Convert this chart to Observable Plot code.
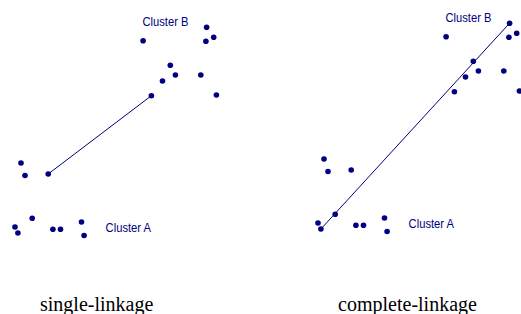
<!DOCTYPE html>
<html><head><meta charset="utf-8">
<script src="https://cdn.jsdelivr.net/npm/d3@7"></script>
<script src="https://cdn.jsdelivr.net/npm/@observablehq/plot@0.6"></script>
<style>
html,body{margin:0;padding:0;background:#fff;width:521px;height:314px;overflow:hidden;}
#wrap{position:relative;width:521px;height:314px;overflow:hidden;}
.panel{position:absolute;width:218px;height:250px;}
.caption{position:absolute;font-family:"Liberation Serif","Times New Roman",serif;font-size:20px;line-height:20px;color:#000;white-space:nowrap;transform:translateX(-50%);}
</style></head><body>
<div id="wrap"></div>
<script>
// Cluster A points (arbitrary units)
const clusterAx = [10.5, 14.5, 37.7, 21.7, 4.5, 7.4, 42.4, 50, 71, 73.6];
const clusterAy = [87.5, 75, 76.5, 32.3, 23.5, 17.5, 21.3, 21.3, 28.5, 15];
// Cluster B points
const clusterBx = [132.6, 196.1, 195.4, 203.2, 159.8, 164.9, 152, 190.3, 140.9, 205.9];
const clusterBy = [209.8, 223.3, 209.2, 213.2, 185.2, 175.5, 169.5, 175.5, 154.8, 155.5];
// Cluster labels
const labelText = ["Cluster A", "Cluster B"];
const labelX = [117.8, 155];
const labelY = [23, 228.3];
// Panels
const methods = ["single-linkage", "complete-linkage"];

const A = clusterAx.map((x, i) => ({x, y: clusterAy[i], cluster: "A"}));
const B = clusterBx.map((x, i) => ({x, y: clusterBy[i], cluster: "B"}));
const points = A.concat(B);
const labels = labelText.map((t, i) => ({t, x: labelX[i], y: labelY[i]}));
const pairs = d3.cross(A, B, (a, b) => ({x1: a.x, y1: a.y, x2: b.x, y2: b.y, d: Math.hypot(a.x - b.x, a.y - b.y)}));
const linkFor = {
  "single-linkage": d3.least(pairs, p => p.d),
  "complete-linkage": d3.greatest(pairs, p => p.d)
};

const NAVY = "#000080";
const wrap = document.getElementById("wrap");
const offsets = {"single-linkage": [0, 0, 96.7], "complete-linkage": [303.2, -4.3, 407.5]};

for (const m of methods) {
  const chart = Plot.plot({
    width: 218, height: 250,
    marginLeft: 10, marginRight: 0, marginTop: 0, marginBottom: 0,
    x: {domain: [0, 208], axis: null},
    y: {domain: [0, 250], axis: null},
    style: {overflow: "visible", background: "transparent"},
    marks: [
      Plot.link([linkFor[m]], {x1: "x1", y1: "y1", x2: "x2", y2: "y2", stroke: NAVY, strokeWidth: 1}),
      Plot.dot(points, {x: "x", y: "y", r: 2.8, fill: NAVY, stroke: "none"}),
      Plot.text(labels, {x: "x", y: "y", text: "t", fill: NAVY, fontSize: 13,
        fontFamily: "'Liberation Sans', Arial, sans-serif", textAnchor: "middle"})
    ]
  });
  const div = document.createElement("div");
  div.className = "panel";
  div.style.left = offsets[m][0] + "px";
  div.style.top = offsets[m][1] + "px";
  div.appendChild(chart);
  wrap.appendChild(div);
  // narrow (condensed) rendering of the cluster labels
  chart.querySelectorAll("text").forEach(t => {
    const w = t.getComputedTextLength();
    t.setAttribute("textLength", (w * 0.86).toFixed(1));
    t.setAttribute("lengthAdjust", "spacingAndGlyphs");
  });
  const cap = document.createElement("div");
  cap.className = "caption";
  cap.textContent = m;
  cap.style.left = offsets[m][2] + "px";
  cap.style.top = "294.3px";
  wrap.appendChild(cap);
}
</script>
</body></html>
